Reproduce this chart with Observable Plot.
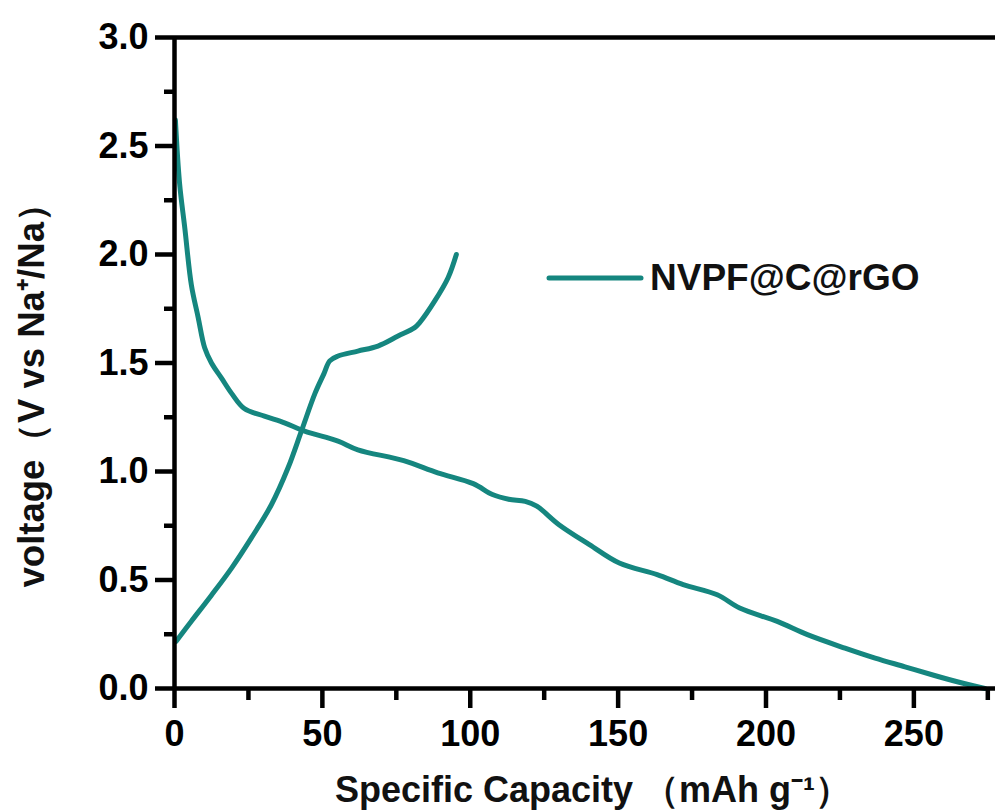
<!DOCTYPE html>
<html>
<head>
<meta charset="utf-8">
<script src="https://cdn.jsdelivr.net/npm/d3@7"></script>
<script src="https://cdn.jsdelivr.net/npm/@observablehq/plot@0.6"></script>
<style>
  html, body { margin: 0; padding: 0; background: #fff; }
</style>
</head>
<body>
<div id="chart"></div>
<script>
// Discharge curve
const dischargeX = [0.3, 1.7, 3.5, 5.7, 8, 10.2, 12.5, 15.9, 19.3, 23.6, 30.4, 37.2, 44, 55.3, 62, 77.5, 89, 101, 107.5, 113, 118.6, 122.5, 130, 140.3, 150.4, 163.2, 172, 183.5, 191.1, 203.8, 214, 226.7, 236.9, 247, 257, 265, 274];
const dischargeV = [2.62, 2.33, 2.12, 1.86, 1.71, 1.57, 1.50, 1.43, 1.36, 1.29, 1.255, 1.224, 1.186, 1.14, 1.10, 1.05, 0.994, 0.944, 0.894, 0.872, 0.862, 0.84, 0.755, 0.663, 0.578, 0.525, 0.479, 0.432, 0.371, 0.309, 0.248, 0.186, 0.14, 0.10, 0.06, 0.03, 0.0];
// Charge curve
const chargeX = [0.5, 5.7, 12.5, 19.3, 26, 32.8, 38.4, 42.9, 47.5, 50.5, 52.5, 55.3, 62, 68.8, 75.6, 81.2, 82.9, 88, 92.5, 95.3];
const chargeV = [0.217, 0.31, 0.43, 0.555, 0.694, 0.848, 1.017, 1.186, 1.36, 1.45, 1.51, 1.532, 1.555, 1.578, 1.624, 1.663, 1.686, 1.786, 1.893, 2.0];

const seriesName = "NVPF@C@rGO";
const xMajorTicks = [0, 50, 100, 150, 200, 250];
const xMinorTicks = [25, 75, 125, 175, 225, 275];
const yMajorTicks = [0, 0.5, 1.0, 1.5, 2.0, 2.5, 3.0];
const yMinorTicks = [0.25, 0.75, 1.25, 1.75, 2.25, 2.75];
const xLabel = "Specific Capacity （mAh g⁻¹）";
const yLabel = "voltage（V vs Na⁺/Na）";

const lineColor = "#15867f";
const font = "'Liberation Sans', Arial, sans-serif";

const discharge = dischargeX.map((x, i) => ({x, v: dischargeV[i]}));
const charge = chargeX.map((x, i) => ({x, v: chargeV[i]}));

const plot = Plot.plot({
  width: 995,
  height: 811,
  marginLeft: 174,
  marginRight: 0,
  marginTop: 37,
  marginBottom: 123,
  style: {fontFamily: font, fontWeight: "bold", fontSize: "36px", background: "#fff", overflow: "visible"},
  x: {domain: [0, 277.6]},
  y: {domain: [0, 3]},
  marks: [
    Plot.line(discharge, {x: "x", y: "v", curve: "catmull-rom", stroke: lineColor, strokeWidth: 5, strokeLinejoin: "round", strokeLinecap: "round"}),
    Plot.line(charge, {x: "x", y: "v", curve: "catmull-rom", stroke: lineColor, strokeWidth: 5, strokeLinejoin: "round", strokeLinecap: "round"}),
    Plot.ruleX([0], {stroke: "#000", strokeWidth: 4.5}),
    Plot.ruleY([0, 3], {stroke: "#000", strokeWidth: 4.5}),
    Plot.axisX({ticks: xMajorTicks, tickSize: 20, tickPadding: 12, strokeWidth: 4.5, stroke: "#000", fill: "#000", fontSize: 36, fontWeight: "bold", label: null, tickFormat: d => String(d)}),
    Plot.axisX({ticks: xMinorTicks, tickSize: 12, strokeWidth: 4.5, stroke: "#000", tickFormat: () => "", label: null}),
    Plot.axisY({ticks: yMajorTicks, tickSize: 19, tickPadding: 7, strokeWidth: 4.5, stroke: "#000", fill: "#000", fontSize: 36, fontWeight: "bold", label: null, tickFormat: d => d.toFixed(1)}),
    Plot.axisY({ticks: yMinorTicks, tickSize: 10, strokeWidth: 4.5, stroke: "#000", tickFormat: () => "", label: null}),
    Plot.text([xLabel], {frameAnchor: "bottom", textAnchor: "middle", dx: 8, dy: 102, fontSize: 36, fontWeight: "bold", fill: "#111", lineAnchor: "middle"}),
    Plot.text([yLabel], {frameAnchor: "left", textAnchor: "middle", dx: -142.5, dy: 23.5, rotate: -90, fontSize: 36, fontWeight: "bold", fill: "#111", lineAnchor: "middle"})
  ]
});

const svg = d3.select(plot);
// stretch the y label along its length like the reference
svg.selectAll("text").filter(function() { return this.textContent === yLabel; })
  .attr("textLength", 402).attr("lengthAdjust", "spacingAndGlyphs");

// Legend (decoration placed in pixel space)
const lg = svg.append("g").attr("text-anchor", "start");
lg.append("line").attr("x1", 549).attr("x2", 641).attr("y1", 278).attr("y2", 278)
  .attr("stroke", lineColor).attr("stroke-width", 5).attr("stroke-linecap", "round");
lg.append("text").attr("x", 650).attr("y", 290).attr("text-anchor", "start").text(seriesName)
  .attr("font-family", font).attr("font-weight", "bold").attr("font-size", 37).attr("fill", "#111");

document.getElementById("chart").appendChild(plot);
</script>
</body>
</html>
